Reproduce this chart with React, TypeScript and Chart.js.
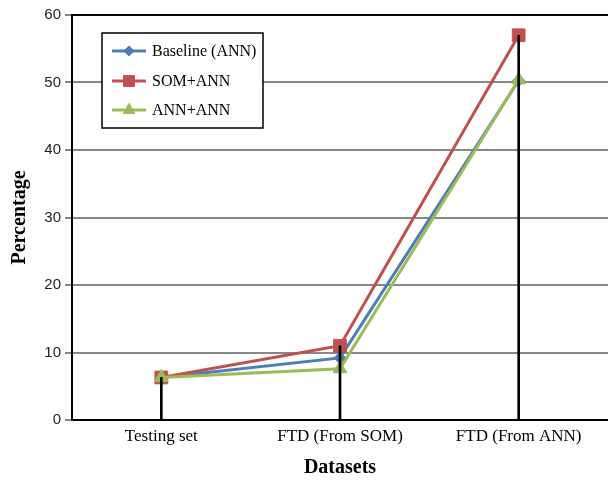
import React, { useEffect, useRef } from "react";
import { Chart, registerables } from "chart.js";
import { drawPoint } from "chart.js/helpers";

Chart.register(...registerables);

const categories = ["Testing set", "FTD (From SOM)", "FTD (From ANN)"];
const baselineAnn = [6.3, 9.2, 50.3];
const somAnn = [6.3, 11.0, 57.0];
const annAnn = [6.3, 7.6, 50.4];
const seriesLabels = ["Baseline (ANN)", "SOM+ANN", "ANN+ANN"];
const yMin = 0;
const yMax = 60;
const yStep = 10;

const SERIF = "'Liberation Serif', 'Times New Roman', serif";
const SANS = "'Liberation Sans', Arial, sans-serif";

const boxedLegend = {
  id: "boxedLegend",
  afterDraw(chart: any) {
    const { ctx, chartArea } = chart;
    const x0 = chartArea.left + 30;
    const y0 = chartArea.top + 18;
    const w = 161;
    const h = 95;
    ctx.save();
    ctx.fillStyle = "#fff";
    ctx.fillRect(x0, y0, w, h);
    ctx.strokeStyle = "#000";
    ctx.lineWidth = 1.5;
    ctx.strokeRect(x0, y0, w, h);
    const items = chart.data.datasets.filter((d: any) => d.type === "line");
    const rowY = [18, 48, 77];
    items.forEach((ds: any, i: number) => {
      const y = y0 + rowY[i];
      ctx.strokeStyle = ds.borderColor;
      ctx.lineWidth = 3;
      ctx.beginPath();
      ctx.moveTo(x0 + 10, y);
      ctx.lineTo(x0 + 44, y);
      ctx.stroke();
      ctx.fillStyle = ds.backgroundColor;
      ctx.strokeStyle = ds.borderColor;
      ctx.lineWidth = 1;
      drawPoint(ctx, { pointStyle: ds.pointStyle, radius: ds.pointRadius * 0.85, borderWidth: 1, rotation: 0 } as any, x0 + 27, y);
      ctx.fillStyle = "#000";
      ctx.font = `16px ${SERIF}`;
      ctx.textBaseline = "middle";
      ctx.textAlign = "left";
      ctx.fillText(ds.label, x0 + 50, y + 1);
    });
    ctx.restore();
  },
};

export default function App() {
  const ref = useRef<HTMLCanvasElement | null>(null);
  useEffect(() => {
    document.body.style.margin = "0";
    const maxes = categories.map((_, i) => Math.max(baselineAnn[i], somAnn[i], annAnn[i]));
    const chart = new Chart(ref.current as HTMLCanvasElement, {
      data: {
        labels: categories,
        datasets: [
          {
            type: "line",
            label: seriesLabels[0],
            data: baselineAnn,
            borderColor: "#4A7EBB",
            backgroundColor: "#4A7EBB",
            borderWidth: 3,
            pointStyle: "rectRot",
            pointRadius: 6,
            pointBorderWidth: 1,
            tension: 0,
            order: 3,
          },
          {
            type: "line",
            label: seriesLabels[1],
            data: somAnn,
            borderColor: "#C0504D",
            backgroundColor: "#C0504D",
            borderWidth: 3,
            pointStyle: "rect",
            pointRadius: 9,
            pointBorderWidth: 1,
            tension: 0,
            order: 2,
          },
          {
            type: "line",
            label: seriesLabels[2],
            data: annAnn,
            borderColor: "#9BBB59",
            backgroundColor: "#9BBB59",
            borderWidth: 3,
            pointStyle: "triangle",
            pointRadius: 8,
            pointBorderWidth: 1,
            tension: 0,
            order: 1,
          },
          {
            type: "bar",
            label: "drop",
            data: maxes,
            backgroundColor: "#000",
            barThickness: 2,
            order: 0,
          },
        ],
      } as any,
      options: {
        responsive: false,
        animation: false,
        devicePixelRatio: 1,
        layout: { autoPadding: false, padding: { top: 15, right: 0, bottom: 0, left: 0 } },
        plugins: {
          legend: { display: false },
          tooltip: { enabled: false },
        },
        scales: {
          x: {
            type: "category",
            offset: true,
            grid: { display: false, drawTicks: false },
            border: { display: true, color: "#000", width: 2 },
            ticks: { color: "#000", font: { family: SERIF, size: 17 }, padding: 6 },
            title: {
              display: true,
              text: "Datasets",
              color: "#000",
              font: { family: SERIF, size: 20, weight: "bold" },
              padding: { top: 4, bottom: 1 },
            },
            afterFit: (s: any) => {
              s.height = 61;
            },
          },
          y: {
            min: yMin,
            max: yMax,
            ticks: { stepSize: yStep, color: "#222", font: { family: SANS, size: 15 }, padding: 4 },
            grid: {
              color: (c: any) => (c.tick && c.tick.value === yMax ? "#000" : "#888"),
              lineWidth: 2,
              tickColor: "#888",
              tickLength: 7,
            },
            border: { display: true, color: "#000", width: 2 },
            title: {
              display: true,
              text: "Percentage",
              color: "#000",
              font: { family: SERIF, size: 20, weight: "bold" },
              padding: { top: 8, bottom: 4 },
            },
            afterFit: (s: any) => {
              s.width = 72;
            },
          },
        },
      } as any,
      plugins: [boxedLegend],
    });
    return () => chart.destroy();
  }, []);
  return (
    <div style={{ position: "absolute", left: 0, top: 0, width: 608, height: 481 }}>
      <canvas ref={ref} width={608} height={481} />
    </div>
  );
}
